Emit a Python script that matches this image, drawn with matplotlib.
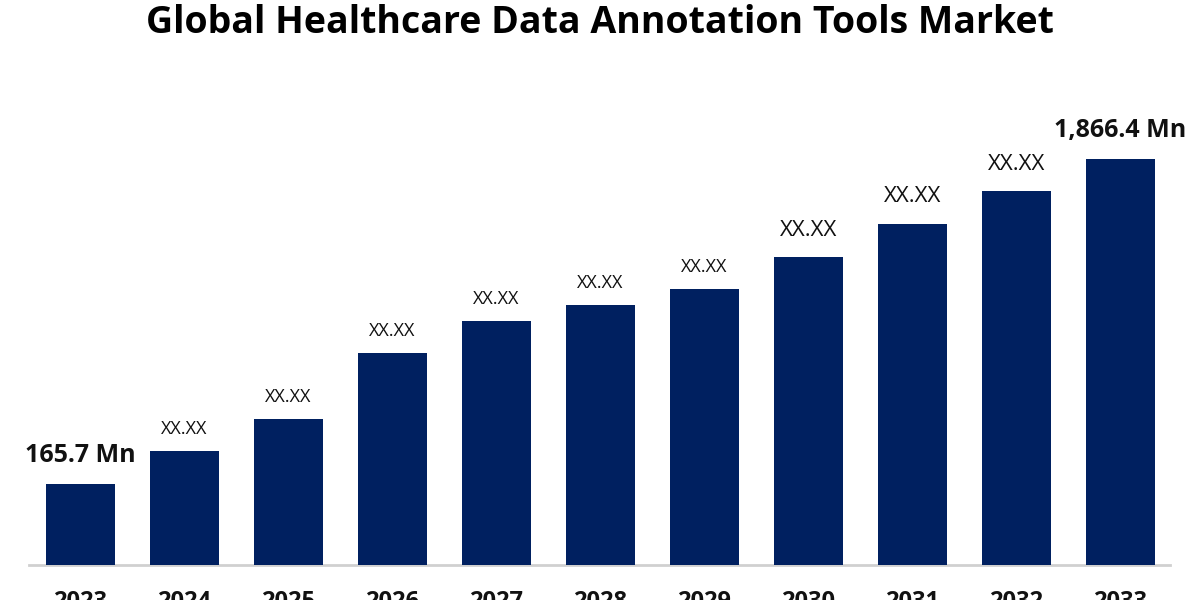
import matplotlib.pyplot as plt

# Data (bar heights are estimated in chart units)
years = ['2023', '2024', '2025', '2026', '2027', '2028', '2029', '2030', '2031', '2032', '2033']
heights = [81, 114, 146, 212, 244, 260, 276, 308, 341, 374, 406]
labels = ['165.7 Mn', 'XX.XX', 'XX.XX', 'XX.XX', 'XX.XX', 'XX.XX', 'XX.XX',
          'XX.XX', 'XX.XX', 'XX.XX', '1,866.4 Mn']

bar_color = '#002060'
plt.rcParams['font.family'] = ['Open Sans', 'DejaVu Sans']

fig = plt.figure(figsize=(12, 6), dpi=100)
ax = fig.add_axes([0, 0, 1, 1])
x = list(range(len(years)))
ax.bar(x, heights, width=0.663, color=bar_color, zorder=2)

ax.set_xlim(-0.774, 10.764)
ax.set_ylim(-35, 565)
ax.axis('off')

# baseline
ax.plot([-0.495, 10.477], [0, 0], color='#d0d0d0', lw=2, zorder=1)

# value labels
for i, (h, lab) in enumerate(zip(heights, labels)):
    if i == 0 or i == len(years) - 1:
        ax.text(i, h + 28, lab, ha='center', va='center',
                fontsize=18, fontweight='bold', color='#111111')
    elif i >= 7:
        ax.text(i, h + 27, lab, ha='center', va='center', fontsize=16, color='#111111')
    else:
        ax.text(i, h + 22, lab, ha='center', va='center', fontsize=13, color='#111111')

# year labels (cut off at the bottom edge, as in the original)
for i, y in enumerate(years):
    ax.text(i, -37, y, ha='center', va='center', fontsize=17, fontweight='bold',
            color='#111111', clip_on=False)

fig.text(0.5, 0.962, 'Global Healthcare Data Annotation Tools Market', ha='center',
         va='center', fontsize=27, fontweight='bold', color='#000000')

fig.savefig('out.png', dpi=100)
